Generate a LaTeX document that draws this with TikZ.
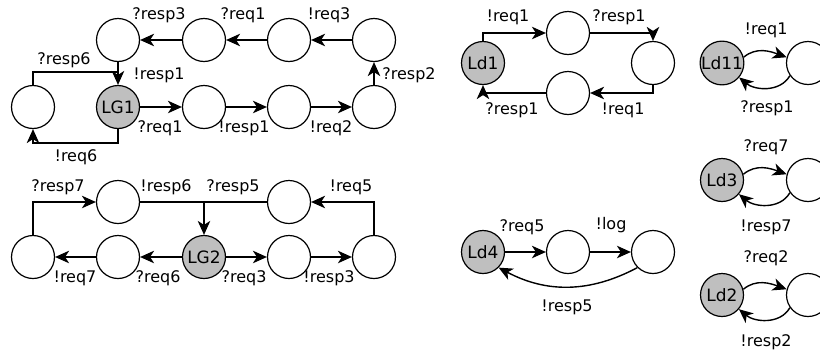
\documentclass[tikz,border=0pt]{standalone}
\usepackage{fontspec}
\setmainfont{DejaVu Sans}
\usetikzlibrary{arrows.meta}
\begin{document}
\begin{tikzpicture}[x=1pt,y=-1pt,
  st/.style={circle,draw,line width=1.2pt,minimum size=43pt,inner sep=0pt,font=\fontsize{17}{17}\selectfont},
  init/.style={st,fill=gray!50},
  lbl/.style={font=\fontsize{16}{16}\selectfont,inner sep=0pt},
  arr/.style={line width=1.4pt,-{Stealth[length=14pt,width=12.5pt,inset=4pt]}},
  ln/.style={line width=1.4pt}]
\useasboundingbox (0,0) rectangle (820,354);
% ---------- top-left (LG1) ----------
\node[st] (t1) at (118,40) {};
\node[st] (t2) at (204,40) {};
\node[st] (t3) at (289,40) {};
\node[st] (t4) at (374,40) {};
\node[st] (l0) at (33,107) {};
\node[init] (LG1) at (118,107) {LG1};
\node[st] (b2) at (204,107) {};
\node[st] (b3) at (289,107) {};
\node[st] (b4) at (374,107) {};
\coordinate (j1) at (118,72);
\coordinate (k1) at (33,143);
\draw[arr] (t4) -- (t3);
\draw[arr] (t3) -- (t2);
\draw[arr] (t2) -- (t1);
\draw[arr] (t1) -- (LG1);
\draw[ln] (l0.north) |- (j1);
\draw[arr] (LG1) -- (b2);
\draw[arr] (b2) -- (b3);
\draw[arr] (b3) -- (b4);
\draw[arr] (b4) -- (t4);
\draw[arr] (LG1.south) |- (k1) -- (l0.south);
\node[lbl] (a1) at (329,15) {!req3};
\node[lbl] (a2) at (243,15) {?req1};
\node[lbl] (a3) at (159,15) {?resp3};
\node[lbl] (a4) at (159,75) {!resp1};
\node[lbl] (a5) at (64,60) {?resp6};
\node[lbl] (a6) at (409,75) {?resp2};
\node[lbl] (a7) at (160,128) {?req1};
\node[lbl] (a8) at (244,128) {!resp1};
\node[lbl] (a9) at (331,128) {!req2};
\node[lbl] (a10) at (76,157) {!req6};
% ---------- bottom-left (LG2) ----------
\node[st] (u1) at (118,202) {};
\node[st] (u2) at (289,202) {};
\node[st] (v0) at (33,257) {};
\node[st] (v1) at (118,257) {};
\node[init] (LG2) at (204,257) {LG2};
\node[st] (v3) at (289,257) {};
\node[st] (v4) at (374,257) {};
\coordinate (j2) at (204,202);
\draw[arr] (LG2) -- (v1);
\draw[arr] (v1) -- (v0);
\draw[arr] (LG2) -- (v3);
\draw[arr] (v3) -- (v4);
\draw[arr] (v4.north) |- (u2.east);
\draw[ln] (u2.west) -- (j2);
\draw[ln] (u1.east) -- (j2);
\draw[arr] (j2) -- (LG2.north);
\draw[arr] (v0.north) |- (u1.west);
\node[lbl] (c1) at (58,187) {?resp7};
\node[lbl] (c2) at (166,187) {!resp6};
\node[lbl] (c3) at (233,187) {?resp5};
\node[lbl] (c4) at (351,187) {!req5};
\node[lbl] (c5) at (75,278) {!req7};
\node[lbl] (c6) at (158,278) {?req6};
\node[lbl] (c7) at (244,278) {?req3};
\node[lbl] (c8) at (329,278) {!resp3};
% ---------- Ld1 ----------
\node[init] (Ld1) at (483,63) {Ld1};
\node[st] (d2) at (568,33) {};
\node[st] (d3) at (653,63) {};
\node[st] (d4) at (568,93) {};
\draw[arr] (Ld1.north) |- (d2.west);
\draw[arr] (d2.east) -| (d3.north);
\draw[arr] (d3.south) |- (d4.east);
\draw[arr] (d4.west) -| (Ld1.south);
\node[lbl] (g1) at (508,17) {!req1};
\node[lbl] (g2) at (619,17) {?resp1};
\node[lbl] (g3) at (623,110) {!req1};
\node[lbl] (g4) at (512,110) {?resp1};
% ---------- Ld4 ----------
\node[init] (Ld4) at (483,252) {Ld4};
\node[st] (e2) at (568,252) {};
\node[st] (e3) at (653,252) {};
\draw[arr] (Ld4) -- (e2);
\draw[arr] (e2) -- (e3);
\draw[arr] (e3.south west) to[bend left=28] (Ld4.south east);
\node[lbl] (h1) at (522,227) {?req5};
\node[lbl] (h2) at (611,225) {!log};
\node[lbl] (h3) at (567,307) {!resp5};
% ---------- right column ----------
\node[init] (Ld11) at (722,63) {Ld11};
\node[st] (f1) at (808,63) {};
\draw[arr] (Ld11.15) to[out=40,in=160] (f1.165);
\draw[arr] (f1.215) to[out=240,in=-40] (Ld11.-40);
\node[lbl] (m1) at (766,30) {!req1};
\node[lbl] (m2) at (767,108) {?resp1};
\node[init] (Ld3) at (722,180) {Ld3};
\node[st] (f2) at (808,180) {};
\draw[arr] (Ld3.15) to[out=40,in=160] (f2.165);
\draw[arr] (f2.215) to[out=240,in=-40] (Ld3.-40);
\node[lbl] (m3) at (766,147) {?req7};
\node[lbl] (m4) at (766,227) {!resp7};
\node[init] (Ld2) at (722,295) {Ld2};
\node[st] (f3) at (808,295) {};
\draw[arr] (Ld2.15) to[out=40,in=160] (f3.165);
\draw[arr] (f3.215) to[out=240,in=-40] (Ld2.-40);
\node[lbl] (m5) at (766,258) {?req2};
\node[lbl] (m6) at (766,342) {!resp2};
\end{tikzpicture}
\end{document}
